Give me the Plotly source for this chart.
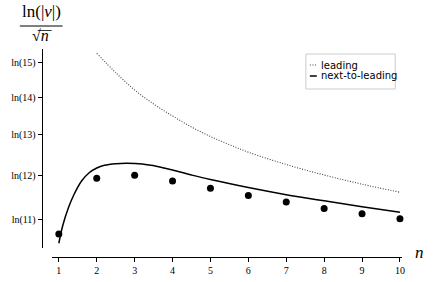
import math
import plotly.graph_objects as go

# ---- data ----
n_points = [1, 2, 3, 4, 5, 6, 7, 8, 9, 10]
y_points = [2.3704, 2.4798, 2.4856, 2.4745, 2.4603, 2.4460, 2.4332, 2.4205, 2.4103, 2.4003]

n_nlo = [1.0, 1.1, 1.25, 1.4, 1.6, 1.8, 2.0, 2.2, 2.5, 2.8, 3.2, 3.6, 4.0, 4.5, 5.0, 6.0, 7.0, 8.0, 9.0, 10.0]
y_nlo = [2.3522, 2.3861, 2.4215, 2.4480, 2.4745, 2.4907, 2.5000, 2.5053, 2.5084, 2.5092,
         2.5078, 2.5030, 2.4960, 2.4862, 2.4772, 2.4615, 2.4475, 2.4355, 2.4240, 2.4130]

n_lead = [2.0, 2.5, 3.0, 3.5, 4.0, 4.5, 5.0, 5.5, 6.0, 7.0, 8.0, 9.0, 10.0]
y_lead = [2.7251, 2.6872, 2.6531, 2.6256, 2.6021, 2.5805, 2.5618, 2.5457, 2.5310,
          2.5068, 2.4862, 2.4682, 2.4523]

x_ticks = [1, 2, 3, 4, 5, 6, 7, 8, 9, 10]
y_tick_args = [11, 12, 13, 14, 15]
y_tick_vals = [math.log(k) for k in y_tick_args]
y_tick_text = [f"ln({k})" for k in y_tick_args]

W, H = 436, 282
def px(x):
    return x / W
def py(y):
    return (H - y) / H

fig = go.Figure()
fig.add_trace(go.Scatter(x=n_lead, y=y_lead, mode="lines", name="leading",
                         line=dict(color="#444444", width=1.1, dash="1px,1.6px", shape="spline"),
                         showlegend=False))
fig.add_trace(go.Scatter(x=n_nlo, y=y_nlo, mode="lines", name="next-to-leading",
                         line=dict(color="black", width=1.5, shape="spline"),
                         showlegend=False))
fig.add_trace(go.Scatter(x=n_points, y=y_points, mode="markers", name="exact",
                         marker=dict(color="black", size=7), cliponaxis=False,
                         showlegend=False))

serif = "Liberation Serif"
fig.update_layout(
    width=W, height=H, margin=dict(l=0, r=0, t=0, b=0),
    plot_bgcolor="white", paper_bgcolor="white",
    xaxis=dict(domain=[px(52), px(405)], range=[0.81, 10.06], anchor="free",
               position=(H - 257) / H, showline=True, linecolor="black", linewidth=1,
               ticks="outside", ticklen=4, tickcolor="black", tickwidth=1,
               tickvals=x_ticks, ticktext=[str(v) for v in x_ticks],
               showgrid=False, zeroline=False,
               tickfont=dict(family=serif, size=10, color="black")),
    yaxis=dict(domain=[34 / H, 233 / H], range=[2.3429, 2.7336], anchor="free",
               position=px(42), showline=True, linecolor="black", linewidth=1,
               ticks="outside", ticklen=4, tickcolor="black", tickwidth=1,
               tickvals=y_tick_vals, ticktext=y_tick_text,
               showgrid=False, zeroline=False,
               tickfont=dict(family=serif, size=10, color="black")),
    showlegend=False,
)

# y-axis title as a fraction
fig.add_annotation(x=px(42), y=py(12), xref="paper", yref="paper", showarrow=False,
                   text="ln(|<i>ν</i>|)", font=dict(family=serif, size=17, color="black"),
                   xanchor="center", yanchor="middle")
fig.add_shape(type="line", xref="paper", yref="paper", x0=px(20), x1=px(63),
              y0=py(26), y1=py(26), line=dict(color="black", width=1))
fig.add_annotation(x=px(41), y=py(36), xref="paper", yref="paper", showarrow=False,
                   text="√<i>n</i>", font=dict(family=serif, size=16, color="black"),
                   xanchor="center", yanchor="middle")
fig.add_shape(type="line", xref="paper", yref="paper", x0=px(38), x1=px(52),
              y0=py(30.5), y1=py(30.5), line=dict(color="black", width=0.8))

# x-axis label
fig.add_annotation(x=px(422), y=py(252), xref="paper", yref="paper", showarrow=False,
                   text="<i>n</i>", font=dict(family=serif, size=17, color="black"),
                   xanchor="center", yanchor="middle")

# legend box
fig.add_shape(type="rect", xref="paper", yref="paper", x0=px(308), x1=px(398),
              y0=py(89), y1=py(54), line=dict(color="#cccccc", width=1),
              fillcolor="white", layer="above")
fig.add_shape(type="line", xref="paper", yref="paper", x0=px(312), x1=px(319),
              y0=py(65), y1=py(65), line=dict(color="#444444", width=1.1, dash="1px,1.6px"))
fig.add_shape(type="line", xref="paper", yref="paper", x0=px(312), x1=px(319),
              y0=py(76), y1=py(76), line=dict(color="black", width=1.5))
for label, yy in [("leading", 65), ("next-to-leading", 76)]:
    fig.add_annotation(x=px(321), y=py(yy), xref="paper", yref="paper", showarrow=False,
                       text=label, font=dict(family="DejaVu Sans", size=10, color="black"),
                       xanchor="left", yanchor="middle")

fig.write_html("out.html", config={"displayModeBar": False},
               post_script="document.body.style.margin='0';document.body.style.overflow='hidden';")
